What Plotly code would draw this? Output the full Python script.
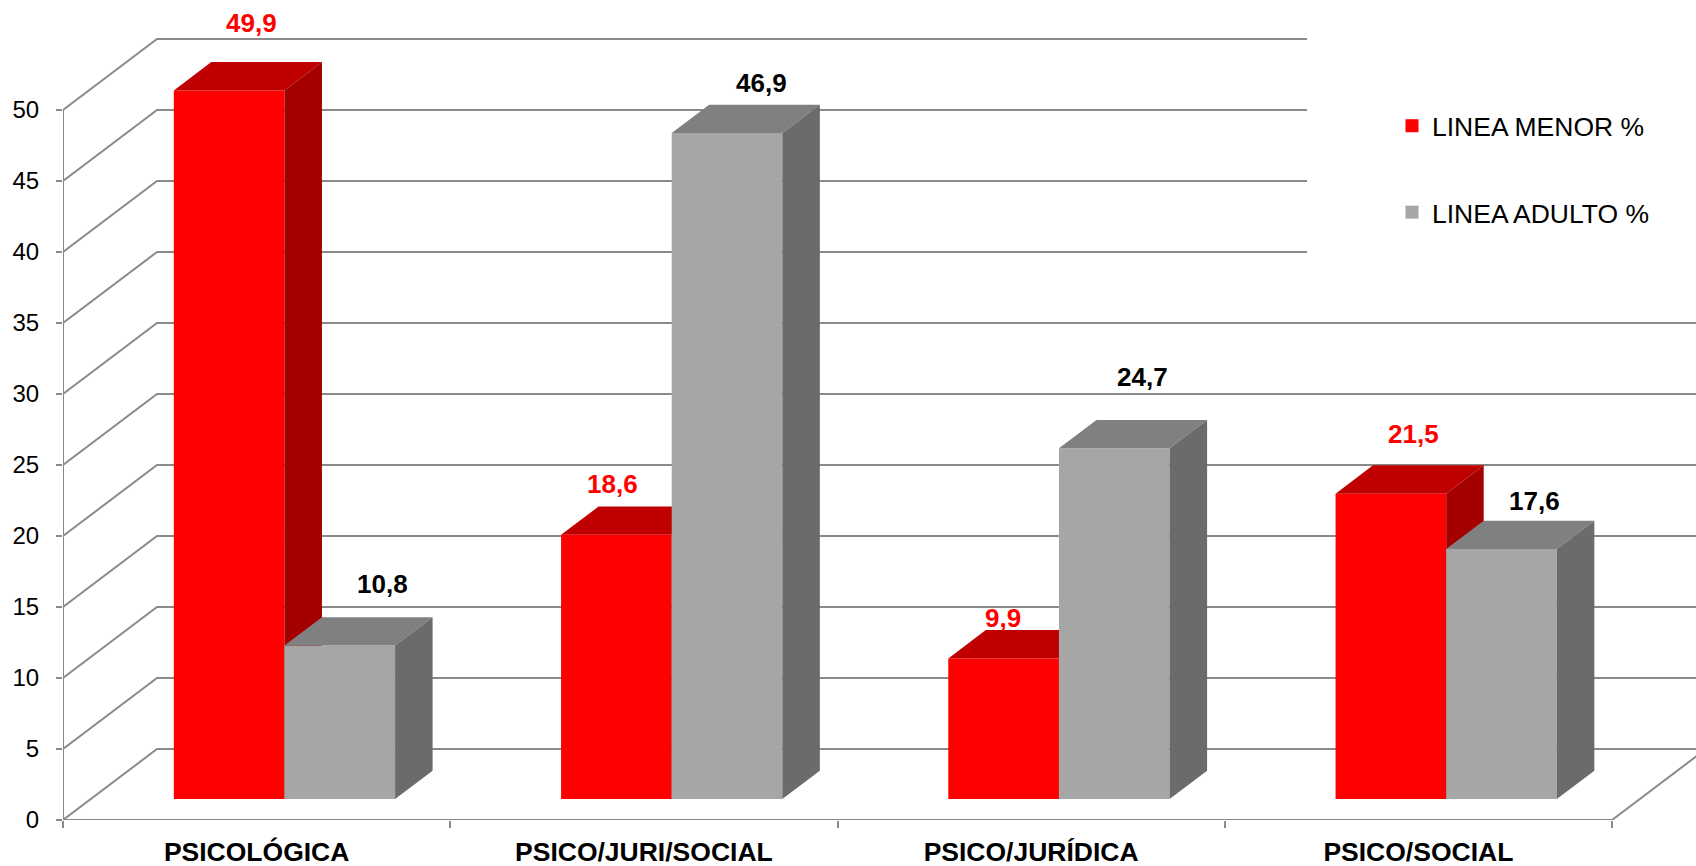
import plotly.graph_objects as go

# ---- data ----
categories = ["PSICOLÓGICA", "PSICO/JURI/SOCIAL", "PSICO/JURÍDICA", "PSICO/SOCIAL"]
menor = [49.9, 18.6, 9.9, 21.5]
adulto = [10.8, 46.9, 24.7, 17.6]
series_names = ["LINEA MENOR %", "LINEA ADULTO %"]
y_ticks = [0, 5, 10, 15, 20, 25, 30, 35, 40, 45, 50]

# ---- pseudo-3D geometry (category units on x, value units on y) ----
PX_PER_CAT = 387.25
PX_PER_VAL = 14.2
LEFT_PX, WIDTH_PX, HEIGHT_PX, BOTTOM_PX = 63, 1633, 820, 46
BAR_W = 1 / 3.5                 # two bars + 150 % gap per category
DX, DY = 94 / PX_PER_CAT, 5.0   # oblique depth of the floor/walls
Z0, Z1 = 0.296, 0.695           # bar depth range inside the floor

# face colours: front, top, side
RED = ("#FF0000", "#C00000", "#A50000")
GRAY = ("#A6A6A6", "#808080", "#6B6B6B")
GRID = "#8A8A8A"

# label nudges in px (dx, dy) from the top-centre of each front face
menor_nudge = [(22, 67), (-4, 51), (-1, 40), (23, 60)]
adulto_nudge = [(43, 62), (34, 50), (28, 71), (33, 48)]


def box_faces(values, offset):
    front = ([], [])
    top = ([], [])
    side = ([], [])
    ax, ay = Z0 * DX, Z0 * DY
    bx, by = Z1 * DX, Z1 * DY
    for k, v in enumerate(values):
        xl = k + offset
        xr = xl + BAR_W
        pts_f = [(xl + ax, ay), (xr + ax, ay), (xr + ax, v + ay), (xl + ax, v + ay)]
        pts_t = [(xl + ax, v + ay), (xr + ax, v + ay), (xr + bx, v + by), (xl + bx, v + by)]
        pts_s = [(xr + ax, ay), (xr + bx, by), (xr + bx, v + by), (xr + ax, v + ay)]
        for face, pts in ((front, pts_f), (top, pts_t), (side, pts_s)):
            for px, py in pts + [pts[0]]:
                face[0].append(px)
                face[1].append(py)
            face[0].append(None)
            face[1].append(None)
    return front, top, side


fig = go.Figure()

for values, offset, cols in ((menor, -BAR_W, RED), (adulto, 0.0, GRAY)):
    for (fx, fy), col in zip(box_faces(values, offset), cols):
        fig.add_trace(go.Scatter(
            x=fx, y=fy, mode="lines", fill="toself", fillcolor=col,
            line=dict(width=0, color=col), hoverinfo="skip", showlegend=False,
        ))

# legend entries
for name, cols in zip(series_names, (RED, GRAY)):
    fig.add_trace(go.Scatter(
        x=[None], y=[None], mode="markers", name=name, legendgroup=name,
        marker=dict(symbol="square", size=13, color=cols[0]),
    ))

# value labels
annotations = []
for values, nudges, colour, offset in ((menor, menor_nudge, "#FF0000", -BAR_W),
                                       (adulto, adulto_nudge, "#000000", 0.0)):
    for k, (v, (nx, ny)) in enumerate(zip(values, nudges)):
        annotations.append(dict(
            x=k + offset + BAR_W / 2 + Z0 * DX, y=v + Z0 * DY,
            xref="x", yref="y", text=f"{v:.1f}".replace(".", ","),
            showarrow=False, xanchor="center", yanchor="middle",
            xshift=nx, yshift=ny,
            font=dict(family="Liberation Sans, Arial", size=26, color=colour, weight="bold"),
        ))

# walls, floor and axis lines
shapes = []
x_far = len(categories) - 0.5 + DX
for v in y_ticks:
    shapes.append(dict(
        type="path", xref="x", yref="y", layer="below",
        path=f"M{-0.5},{v} L{-0.5 + DX},{v + DY} L{x_far},{v + DY}",
        line=dict(color=GRID, width=2),
    ))
shapes.append(dict(type="line", xref="x", yref="y", layer="below",
                   x0=-0.5, y0=0, x1=-0.5, y1=y_ticks[-1], line=dict(color=GRID, width=2)))
shapes.append(dict(type="line", xref="x", yref="y", layer="below",
                   x0=-0.5, y0=0, x1=len(categories) - 0.5, y1=0, line=dict(color=GRID, width=2)))
shapes.append(dict(type="line", xref="x", yref="y", layer="below",
                   x0=len(categories) - 0.5, y0=0, x1=len(categories) - 0.5 + DX, y1=DY,
                   line=dict(color=GRID, width=2)))
# blank area behind the legend
shapes.append(dict(type="rect", xref="x", yref="y", layer="below",
                   x0=-0.5 + (1307 - LEFT_PX) / PX_PER_CAT, x1=x_far + 1,
                   y0=(HEIGHT_PX - 292) / PX_PER_VAL, y1=HEIGHT_PX / PX_PER_VAL + 5,
                   fillcolor="white", line=dict(width=0)))

x_range = [-0.5, -0.5 + WIDTH_PX / PX_PER_CAT]
y_range = [0, HEIGHT_PX / PX_PER_VAL]

fig.update_layout(
    width=1696, height=866,
    margin=dict(l=LEFT_PX, r=0, t=0, b=BOTTOM_PX, pad=0),
    paper_bgcolor="white", plot_bgcolor="white",
    shapes=shapes, annotations=annotations,
    showlegend=True,
    legend=dict(
        x=(1392 - LEFT_PX) / WIDTH_PX, y=(HEIGHT_PX - 102) / HEIGHT_PX,
        xanchor="left", yanchor="top", bgcolor="rgba(0,0,0,0)",
        font=dict(family="Liberation Sans, Arial", size=26.5, color="#000000"),
        tracegroupgap=49, itemsizing="trace",
    ),
    xaxis=dict(
        range=x_range, showgrid=False, zeroline=False, showline=False,
        tickmode="array", tickvals=list(range(len(categories))), ticktext=categories,
        ticks="", ticklabelstandoff=13,
        tickfont=dict(family="Liberation Sans, Arial", size=26.5, color="#000000", weight="bold"),
        minor=dict(tickmode="array", tickvals=[k - 0.5 for k in range(len(categories) + 1)],
                   ticks="outside", ticklen=7, tickwidth=2, tickcolor=GRID),
        fixedrange=True,
    ),
    yaxis=dict(
        range=y_range, showgrid=False, zeroline=False, showline=False,
        tickmode="array", tickvals=y_ticks, ticks="outside", ticklen=6,
        tickwidth=2, tickcolor=GRID, ticklabelstandoff=12,
        tickfont=dict(family="Liberation Sans, Arial", size=24, color="#000000"),
        fixedrange=True,
    ),
)

fig.write_html("out.html")
